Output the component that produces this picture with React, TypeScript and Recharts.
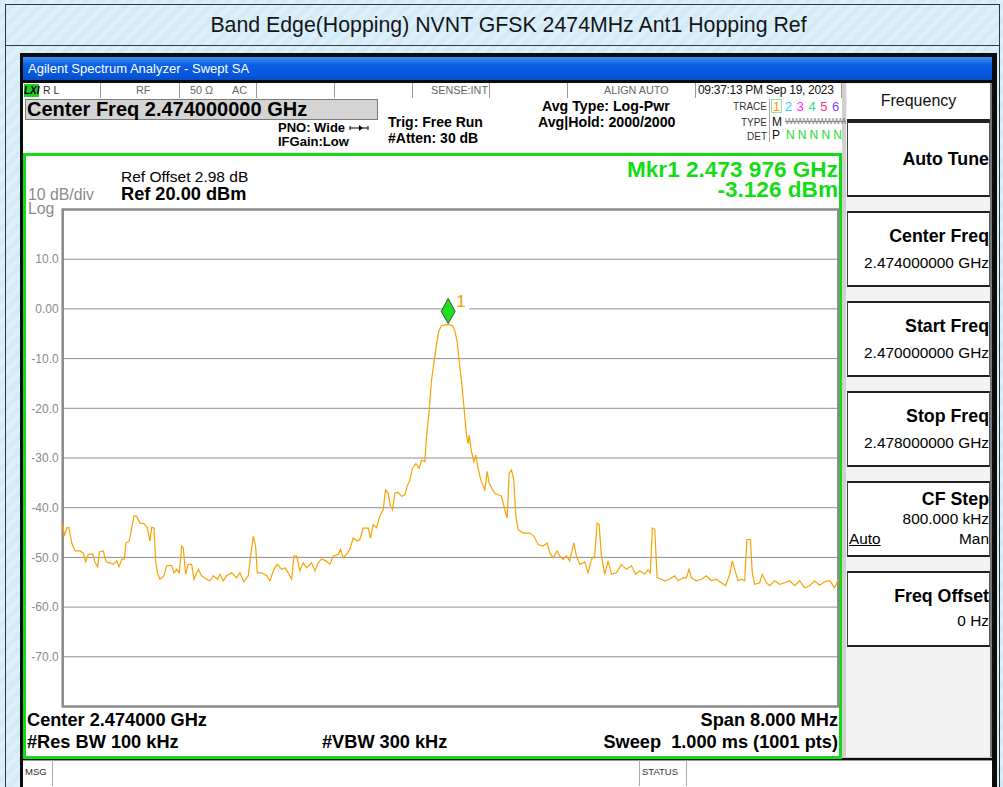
import React from "react";
import {
  CartesianGrid,
  Line,
  LineChart,
  ReferenceArea,
  ReferenceDot,
  XAxis,
  YAxis
} from "recharts";

// sweep: 2.470 – 2.478 GHz, offsets in MHz from start
const freqOffsetMHz = [
  0.0, 0.017, 0.041, 0.065, 0.093, 0.127, 0.179, 0.213, 0.237, 0.265,
  0.309, 0.333, 0.361, 0.378, 0.419, 0.447, 0.488, 0.522, 0.557, 0.581,
  0.608, 0.636, 0.653, 0.687, 0.711, 0.735, 0.763, 0.797, 0.838, 0.873,
  0.9, 0.918, 0.942, 0.959, 0.976, 1.003, 1.045, 1.072, 1.124, 1.148,
  1.175, 1.203, 1.227, 1.244, 1.268, 1.295, 1.33, 1.354, 1.399, 1.433,
  1.485, 1.519, 1.553, 1.598, 1.622, 1.656, 1.691, 1.742, 1.794, 1.828,
  1.869, 1.914, 1.938, 1.966, 1.99, 2.007, 2.052, 2.103, 2.137, 2.179,
  2.213, 2.258, 2.292, 2.326, 2.361, 2.385, 2.412, 2.447, 2.481, 2.515,
  2.567, 2.601, 2.636, 2.67, 2.715, 2.756, 2.79, 2.842, 2.866, 2.893,
  2.928, 2.962, 2.996, 3.038, 3.065, 3.1, 3.151, 3.175, 3.203, 3.237,
  3.271, 3.306, 3.33, 3.357, 3.381, 3.402, 3.426, 3.46, 3.495, 3.529,
  3.553, 3.581, 3.608, 3.643, 3.677, 3.701, 3.735, 3.753, 3.78, 3.804,
  3.832, 3.856, 3.88, 3.907, 3.942, 3.976, 4.021, 4.045, 4.069, 4.089,
  4.113, 4.137, 4.165, 4.182, 4.192, 4.216, 4.241, 4.261, 4.285, 4.313,
  4.354, 4.378, 4.399, 4.426, 4.457, 4.491, 4.526, 4.56, 4.584, 4.605,
  4.629, 4.653, 4.674, 4.698, 4.749, 4.818, 4.859, 4.904, 4.955, 4.996,
  5.024, 5.058, 5.1, 5.127, 5.161, 5.196, 5.23, 5.271, 5.299, 5.333,
  5.385, 5.419, 5.454, 5.488, 5.512, 5.533, 5.557, 5.591, 5.625, 5.66,
  5.711, 5.763, 5.814, 5.866, 5.911, 5.952, 6.003, 6.038, 6.062, 6.082,
  6.107, 6.131, 6.175, 6.21, 6.261, 6.313, 6.347, 6.399, 6.433, 6.46,
  6.485, 6.536, 6.588, 6.639, 6.691, 6.742, 6.794, 6.838, 6.88, 6.907,
  6.931, 6.966, 7.0, 7.034, 7.058, 7.093, 7.113, 7.137, 7.189, 7.216,
  7.258, 7.292, 7.344, 7.395, 7.447, 7.498, 7.55, 7.601, 7.653, 7.704,
  7.756, 7.807, 7.859, 7.911, 7.962, 8.0
];

const levelDbm = [
  -43.2, -45.7, -44.1, -44.0, -47.1, -48.7, -48.7, -49.2, -50.9, -49.4,
  -49.3, -51.0, -51.9, -48.9, -48.7, -50.9, -51.1, -51.4, -50.7, -51.9,
  -50.4, -50.3, -47.1, -46.7, -44.1, -41.7, -41.7, -43.1, -43.2, -44.1,
  -46.7, -43.9, -44.1, -50.7, -53.1, -54.4, -53.7, -51.7, -51.6, -53.1,
  -52.4, -53.1, -47.7, -48.1, -53.4, -51.4, -51.4, -54.4, -52.4, -53.7,
  -54.4, -54.7, -53.7, -54.4, -53.4, -54.7, -53.7, -53.1, -54.1, -53.1,
  -54.9, -53.7, -49.7, -45.7, -47.7, -53.1, -53.1, -53.7, -54.7, -52.4,
  -51.4, -52.4, -52.1, -53.1, -54.4, -49.7, -49.7, -52.7, -51.1, -52.1,
  -51.1, -52.7, -51.1, -50.3, -50.7, -51.4, -49.7, -49.4, -48.4, -50.1,
  -49.4, -48.4, -46.1, -46.7, -46.4, -44.1, -44.1, -46.1, -43.4, -44.0,
  -41.7, -40.4, -36.4, -37.1, -39.7, -40.4, -37.1, -36.9, -37.7, -37.4,
  -35.7, -34.4, -32.1, -31.1, -32.1, -30.4, -30.7, -25.7, -20.4, -14.4,
  -10.4, -7.1, -4.4, -3.4, -3.2, -3.126, -3.4, -4.4, -6.7, -10.4,
  -14.4, -19.4, -25.4, -27.1, -25.4, -28.7, -30.7, -29.4, -32.1, -34.4,
  -36.4, -32.7, -35.1, -36.1, -37.1, -37.4, -37.7, -40.4, -42.1, -33.1,
  -32.4, -34.4, -41.7, -44.4, -45.1, -45.1, -45.7, -47.4, -47.7, -47.1,
  -49.1, -50.1, -48.7, -49.7, -50.4, -49.7, -50.7, -47.1, -49.7, -51.4,
  -50.9, -53.1, -50.4, -49.7, -43.1, -43.4, -49.7, -53.4, -50.7, -53.4,
  -53.1, -51.4, -52.4, -51.7, -53.4, -52.7, -53.4, -52.5, -53.1, -44.1,
  -44.4, -54.1, -54.4, -54.7, -54.4, -53.7, -54.7, -54.1, -54.1, -52.4,
  -54.1, -54.7, -54.4, -53.7, -54.7, -54.4, -55.1, -55.7, -53.4, -50.7,
  -52.4, -54.7, -54.4, -54.7, -46.4, -46.4, -53.1, -55.4, -55.1, -53.4,
  -55.1, -55.7, -54.7, -55.4, -55.1, -54.7, -55.7, -54.7, -56.1, -55.7,
  -54.7, -55.6, -54.9, -54.7, -56.1, -54.4
];

const xTicks = [0.8, 1.6, 2.4, 3.2, 4.0, 4.8, 5.6, 6.4, 7.2];
const yTicks = [-70, -60, -50, -40, -30, -20, -10, 0, 10];

const marker = { f: 3.976, level: -3.126 };

const softkeys = [
  { title: "Auto Tune", value: "" },
  { title: "Center Freq", value: "2.474000000 GHz" },
  { title: "Start Freq", value: "2.470000000 GHz" },
  { title: "Stop Freq", value: "2.478000000 GHz" },
  { title: "CF Step", value: "800.000 kHz" },
  { title: "Freq Offset", value: "0 Hz" }
];

const traceNums = ["1", "2", "3", "4", "5", "6"];
const traceColors = ["#f5a000", "#1ed8ff", "#ff2bff", "#33dd88", "#ff3366", "#7a44ff"];

const rows = freqOffsetMHz.map((f, i) => ({ f, level: levelDbm[i] }));

const SANS = '"Liberation Sans", Arial, sans-serif';
const GREEN = "#14dc14";

function T({
  x,
  y,
  size = 13,
  lh = 1.1,
  bold = false,
  color = "#000",
  right,
  children,
  style
}: {
  x?: number;
  y: number;
  size?: number;
  lh?: number;
  bold?: boolean;
  color?: string;
  right?: number;
  children: React.ReactNode;
  style?: React.CSSProperties;
}) {
  return (
    <div
      style={{
        position: "absolute",
        left: right === undefined ? x : undefined,
        right: right !== undefined ? 1003 - right : undefined,
        top: y - (size * lh) / 2,
        fontSize: size,
        lineHeight: `${size * lh}px`,
        fontWeight: bold ? "bold" : "normal",
        color,
        whiteSpace: "nowrap",
        ...style
      }}
    >
      {children}
    </div>
  );
}

function Diamond(props: any) {
  const { cx, cy } = props;
  return (
    <g>
      <rect x={cx + 6} y={cy - 32} width={15} height={22} fill="#fff" />
      <polygon
        points={`${cx},${cy - 1} ${cx + 7},${cy - 13} ${cx},${cy - 26} ${cx - 7},${cy - 13}`}
        fill="#22dd22"
        stroke="#2b5a2b"
        strokeWidth={1}
      />
      <text x={cx + 8} y={cy - 17} fill="#f5a000" fontSize={17} fontFamily={SANS}>
        1
      </text>
    </g>
  );
}

const statusCells = [
  { x: 23, w: 78 },
  { x: 101, w: 79 },
  { x: 180, w: 77 },
  { x: 257, w: 78 },
  { x: 335, w: 78 },
  { x: 413, w: 77 },
  { x: 490, w: 78 },
  { x: 568, w: 128 },
  { x: 696, w: 146 }
];

export default function App() {
  return (
    <div
      style={{
        position: "absolute",
        left: 0,
        top: 0,
        width: 1003,
        height: 787,
        overflow: "hidden",
        fontFamily: SANS,
        background:
          "repeating-linear-gradient(135deg, #d3eaf8 0px, #d3eaf8 5px, #dcf0fb 5px, #dcf0fb 10px)"
      }}
    >
      {/* report frame */}
      <div
        style={{
          position: "absolute",
          left: 5,
          top: 4,
          width: 995,
          height: 42,
          border: "1px solid #333",
          boxSizing: "border-box",
          textAlign: "center",
          fontSize: 21.3,
          lineHeight: "40px",
          color: "#151515",
          paddingLeft: 12
        }}
      >
        Band Edge(Hopping) NVNT GFSK 2474MHz Ant1 Hopping Ref
      </div>
      <div
        style={{
          position: "absolute",
          left: 5,
          top: 45,
          width: 995,
          height: 750,
          borderLeft: "1px solid #333",
          borderRight: "1px solid #333",
          boxSizing: "border-box"
        }}
      />

      {/* analyzer window */}
      <div style={{ position: "absolute", left: 20, top: 53, width: 977, height: 740, background: "#0c0c0c" }} />
      <div
        style={{
          position: "absolute",
          left: 23,
          top: 57,
          width: 969,
          height: 23,
          background: "linear-gradient(to bottom, #3d8ff6 0%, #0a5fe4 35%, #0656dc 80%, #0a4cc4 100%)",
          color: "#fff",
          fontSize: 13,
          lineHeight: "24px",
          paddingLeft: 5,
          boxSizing: "border-box"
        }}
      >
        Agilent Spectrum Analyzer - Swept SA
      </div>
      <div style={{ position: "absolute", left: 23, top: 83, width: 969, height: 675, background: "#d0d0d0" }} />

      {/* status row */}
      {statusCells.map((c, i) => (
        <div
          key={i}
          style={{
            position: "absolute",
            left: c.x,
            top: 83,
            width: c.w,
            height: 15,
            background: "#fff",
            borderRight: "1px solid #9a9a9a",
            boxSizing: "border-box"
          }}
        />
      ))}
      <div
        style={{
          position: "absolute",
          left: 24,
          top: 84,
          width: 15,
          height: 13,
          background: "#22cc22",
          fontSize: 10,
          fontStyle: "italic",
          fontWeight: "bold",
          lineHeight: "13px",
          textAlign: "center"
        }}
      >
        LXI
      </div>
      <T x={43} y={91} size={10.5} color="#333">R L</T>
      <T x={136} y={91} size={10.8} color="#666">RF</T>
      <T x={190} y={91} size={10.8} color="#666">50 Ω</T>
      <T x={232} y={91} size={10.8} color="#666">AC</T>
      <T right={488} y={91} size={10.8} color="#666">SENSE:INT</T>
      <T x={604} y={91} size={10.8} color="#666">ALIGN AUTO</T>
      <T x={698} y={91} size={12} color="#111" style={{ letterSpacing: -0.3 }}>
        09:37:13 PM Sep 19, 2023
      </T>

      {/* info area */}
      <div style={{ position: "absolute", left: 23, top: 98, width: 819, height: 56, background: "#fff" }} />
      <div
        style={{
          position: "absolute",
          left: 25,
          top: 99,
          width: 353,
          height: 21,
          background: "#d4d4d4",
          border: "1px solid #7a7a7a",
          boxSizing: "border-box",
          fontSize: 20,
          fontWeight: "bold",
          lineHeight: "19px",
          paddingLeft: 1
        }}
      >
        Center Freq 2.474000000 GHz
      </div>
      <T x={278} y={128} size={13} bold>
        PNO: Wide{" "}
        <svg width={20} height={8} style={{ verticalAlign: "middle" }}>
          <line x1={1} y1={4} x2={19} y2={4} stroke="#000" strokeWidth={1} />
          <polygon points="10,1 14,4 10,7" fill="#000" />
          <line x1={1} y1={2} x2={1} y2={6} stroke="#000" />
          <line x1={19} y1={2} x2={19} y2={6} stroke="#000" />
        </svg>
      </T>
      <T x={278} y={142} size={13} bold>IFGain:Low</T>
      <T x={388} y={123} size={14} bold>Trig: Free Run</T>
      <T x={388} y={139} size={14} bold>#Atten: 30 dB</T>
      <T x={542} y={107} size={14.2} bold>Avg Type: Log-Pwr</T>
      <T x={538} y={123} size={14.2} bold>Avg|Hold: 2000/2000</T>

      <T right={767} y={106} size={10} color="#333">TRACE</T>
      <T right={767} y={122} size={10} color="#333">TYPE</T>
      <T right={767} y={136} size={10} color="#333">DET</T>
      <div style={{ position: "absolute", left: 769, top: 99, width: 1, height: 43, background: "#aaa" }} />
      <div
        style={{
          position: "absolute",
          left: 771,
          top: 99,
          width: 11,
          height: 14,
          border: "1px solid #9ee09e",
          boxSizing: "border-box"
        }}
      />
      {traceNums.map((n, i) => (
        <T key={n} x={773 + i * 11.8} y={106} size={13} lh={1} color={traceColors[i]}>
          {n}
        </T>
      ))}
      <T x={772} y={122} size={12} lh={1} color="#111">M</T>
      <T
        x={785}
        y={121}
        size={9}
        lh={1}
        color="#888"
        style={{ letterSpacing: -1.2, textDecoration: "line-through" }}
      >
        WWWWWWWWWW
      </T>
      <T x={772} y={135} size={12} lh={1} color="#111">P</T>
      {traceNums.slice(1).map((n, i) => (
        <T key={n} x={786 + i * 11.8} y={135} size={12} lh={1} color="#22dd22">
          N
        </T>
      ))}

      {/* graticule panel */}
      <div
        style={{
          position: "absolute",
          left: 23,
          top: 153,
          width: 819,
          height: 606,
          border: `3px solid ${GREEN}`,
          boxSizing: "border-box",
          background: "#fff"
        }}
      />
      <T x={121} y={177} size={15.5} lh={1}>Ref Offset 2.98 dB</T>
      <T x={121} y={195} size={18.2} lh={0.95} bold>Ref 20.00 dBm</T>
      <T x={28} y={195} size={15.8} lh={0.85} color="#8a8a8a">10 dB/div</T>
      <T x={28} y={209} size={15.8} lh={0.85} color="#8a8a8a">Log</T>
      <T right={838} y={170} size={22.6} lh={0.85} bold color={GREEN}>Mkr1 2.473 976 GHz</T>
      <T right={838} y={190} size={22.6} lh={0.85} bold color={GREEN}>-3.126 dBm</T>

      <T x={27} y={720} size={18.2} lh={1} bold>Center 2.474000 GHz</T>
      <T x={27} y={742} size={18.2} lh={1} bold>#Res BW 100 kHz</T>
      <T x={322} y={742} size={18.2} lh={1} bold>#VBW 300 kHz</T>
      <T right={838} y={720} size={18.2} lh={1} bold>Span 8.000 MHz</T>
      <T right={838} y={742} size={18.2} lh={1} bold style={{ whiteSpace: "pre" }}>
        Sweep  1.000 ms (1001 pts)
      </T>

      {/* softkey panel */}
      <div
        style={{
          position: "absolute",
          left: 846,
          top: 83,
          width: 146,
          height: 674,
          background: "#f2f2f2",
          borderRight: "2px solid #777",
          boxSizing: "border-box"
        }}
      />
      <div
        style={{
          position: "absolute",
          left: 847,
          top: 84,
          width: 143,
          height: 37,
          background: "#fff",
          borderBottom: "2px solid #222",
          boxSizing: "border-box",
          textAlign: "center",
          fontSize: 16,
          lineHeight: "34px",
          color: "#111"
        }}
      >
        Frequency
      </div>
      {softkeys.map((k, i) => {
        const top = 121 + i * 90;
        return (
          <div
            key={k.title}
            style={{
              position: "absolute",
              left: 847,
              top,
              width: 143,
              height: 76,
              background: "#fff",
              borderTop: "2px solid #222",
              borderBottom: "2px solid #222",
              borderLeft: "1px solid #444",
              borderRight: "1px solid #555",
              boxSizing: "border-box"
            }}
          />
        );
      })}
      <T right={989} y={160} size={17.8} bold>Auto Tune</T>
      {softkeys.slice(1, 4).map((k, i) => (
        <React.Fragment key={k.title}>
          <T right={989} y={237 + i * 90} size={17.8} lh={1} bold>{k.title}</T>
          <T right={989} y={263 + i * 90} size={15.4} lh={1}>{k.value}</T>
        </React.Fragment>
      ))}
      <T right={989} y={500} size={17.8} lh={1} bold>CF Step</T>
      <T right={989} y={519} size={15.4} lh={1}>800.000 kHz</T>
      <T x={849} y={539} size={15.4} lh={1} style={{ textDecoration: "underline" }}>Auto</T>
      <T right={989} y={539} size={15.4} lh={1}>Man</T>
      <T right={989} y={597} size={17.8} lh={1} bold>Freq Offset</T>
      <T right={989} y={621} size={15.4} lh={1}>0 Hz</T>

      {/* message bar */}
      <div
        style={{
          position: "absolute",
          left: 23,
          top: 760,
          width: 969,
          height: 26,
          background: "#fff",
          borderTop: "1px solid #999"
        }}
      />
      <div style={{ position: "absolute", left: 52, top: 760, width: 1, height: 26, background: "#aaa" }} />
      <div style={{ position: "absolute", left: 639, top: 760, width: 1, height: 26, background: "#aaa" }} />
      <div style={{ position: "absolute", left: 686, top: 760, width: 1, height: 26, background: "#aaa" }} />
      <T x={25} y={772} size={9.5} color="#333">MSG</T>
      <T x={642} y={772} size={9.5} color="#333">STATUS</T>

      {/* trace */}
      <div style={{ position: "absolute", left: 0, top: 0 }}>
        <LineChart
          width={1003}
          height={787}
          data={rows}
          margin={{ top: 209.5, right: 164.7, bottom: 80.5, left: 22.7 }}
        >
          <CartesianGrid stroke="#8e8e8e" strokeWidth={1} />
          <XAxis
            dataKey="f"
            type="number"
            domain={[0, 8]}
            ticks={xTicks}
            height={0}
            tick={false}
            axisLine={false}
            tickLine={false}
          />
          <YAxis
            type="number"
            domain={[-80, 20]}
            ticks={yTicks}
            width={40}
            axisLine={false}
            tickLine={false}
            tickSize={4}
            tickMargin={0}
            tick={{ fill: "#8a8a8a", fontSize: 12, fontFamily: SANS }}
            tickFormatter={(v: number) => (v === 0 ? "0.00" : v.toFixed(1))}
          />
          <ReferenceArea
            x1={0}
            x2={8}
            y1={-80}
            y2={20}
            fill="none"
            stroke="#8a8a8a"
            strokeWidth={2.5}
            ifOverflow="visible"
          />
          <Line
            dataKey="level"
            type="linear"
            stroke="#f8a304"
            strokeWidth={1.2}
            dot={false}
            isAnimationActive={false}
          />
          <ReferenceDot x={marker.f} y={marker.level} shape={Diamond} ifOverflow="visible" />
        </LineChart>
      </div>
    </div>
  );
}
